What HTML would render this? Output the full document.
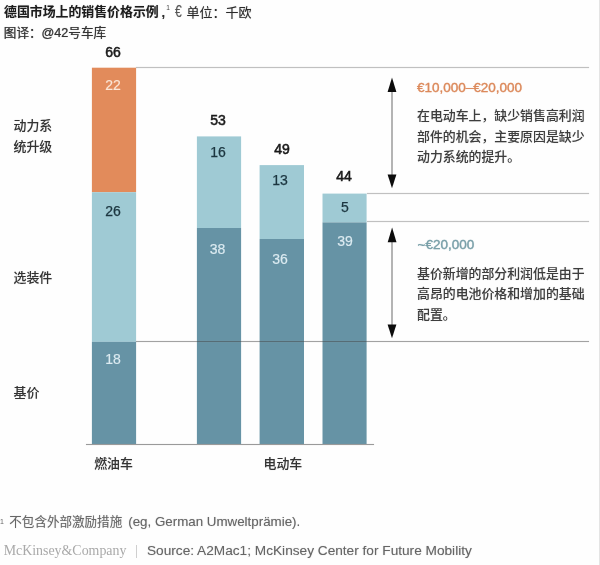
<!DOCTYPE html>
<html lang="zh-CN">
<head>
<meta charset="utf-8">
<title>德国市场上的销售价格示例</title>
<style>
html,body{margin:0;padding:0;}
body{width:600px;height:565px;overflow:hidden;background:#fefefe;position:relative;
  font-family:"Liberation Sans","Noto Sans CJK SC",sans-serif;color:#222;}
#chart{position:absolute;left:0;top:0;width:600px;height:565px;}
.t{position:absolute;white-space:nowrap;line-height:1;text-shadow:0 0 1px rgba(50,50,50,.4);}
.hl{position:absolute;height:1px;background:#c0c0c0;box-shadow:0 0 1px rgba(150,150,150,.6);}
.num{position:absolute;width:44px;text-align:center;font-size:14px;line-height:1;margin-top:-0.7px;-webkit-text-stroke:0.3px currentColor;}
.tot{color:#1a1a1a;margin-top:-1px;-webkit-text-stroke:0.55px currentColor;}
.w{color:#dcebf1;-webkit-text-stroke:0.15px currentColor;}
.k{color:#1c3640;-webkit-text-stroke:0.25px currentColor;}
.cat{font-size:12.9px;color:#333;font-weight:500;text-shadow:0 0 1px rgba(50,50,50,.25);}
.body{font-size:12.9px;color:#3d3d3d;font-weight:500;text-shadow:0 0 1px rgba(60,60,60,.25);}
</style>
</head>
<body>
<div id="chart">
  <!-- header -->
  <div class="t" id="title" style="left:4px;top:5.6px;font-size:12.9px;font-weight:bold;color:#1c1c1c;">德国市场上的销售价格示例</div>
  <div class="t" style="left:161.6px;top:5.5px;font-size:13px;font-weight:bold;color:#2a2a2a;">,</div>
  <div class="t" style="left:166.2px;top:5.2px;font-size:6.5px;color:#444;text-shadow:none;">1</div>
  <div class="t" style="left:174.5px;top:3.9px;font-size:16.6px;color:#555;text-shadow:0 0 1px rgba(85,85,85,.4);transform:scaleX(0.74);transform-origin:0 0;">€</div>
  <div class="t" style="left:186.6px;top:6.2px;font-size:13px;color:#2a2a2a;">单位：千欧</div>
  <div class="t" id="sub" style="left:3.8px;top:27.1px;font-size:12.6px;color:#333;-webkit-text-stroke:0.2px #333;">图译：@42号车库</div>

  <!-- guide lines -->
  <div class="hl" style="left:136px;top:67px;width:453px;"></div>
  <div class="hl" style="left:367px;top:193px;width:222px;"></div>
  <div class="hl" style="left:367px;top:221px;width:222px;"></div>

  <!-- bars -->
  <svg width="600" height="565" viewBox="0 0 600 565" style="position:absolute;left:0;top:0;">
    <rect x="91.9" y="67.7" width="44.2" height="124.5" fill="#e28b5b"/>
    <rect x="91.9" y="192.2" width="44.2" height="149.6" fill="#9fcad4"/>
    <rect x="91.9" y="341.8" width="44.2" height="102.4" fill="#6693a5"/>
    <rect x="196.9" y="136.4" width="44.2" height="91.6" fill="#9fcad4"/>
    <rect x="196.9" y="228" width="44.2" height="216.2" fill="#6693a5"/>
    <rect x="259.6" y="165.1" width="44.4" height="73.9" fill="#9fcad4"/>
    <rect x="259.6" y="239" width="44.4" height="205.2" fill="#6693a5"/>
    <rect x="322.5" y="193.6" width="44.1" height="28.8" fill="#9fcad4"/>
    <rect x="322.5" y="222.4" width="44.1" height="221.8" fill="#6693a5"/>
  </svg>

  <div class="hl" style="left:136px;top:341px;width:453px;background:rgba(70,70,70,.5);"></div>
  <div class="hl" style="left:86px;top:444px;width:288px;background:#9a9a9a;"></div>

  <!-- numbers -->
  <div class="num tot" style="left:91px;top:46px;">66</div>
  <div class="num w" style="left:91px;top:79px;color:#fbe6d6;">22</div>
  <div class="num k" style="left:91px;top:205px;">26</div>
  <div class="num w" style="left:91px;top:353px;">18</div>

  <div class="num tot" style="left:196px;top:114px;">53</div>
  <div class="num k" style="left:196px;top:145.4px;">16</div>
  <div class="num w" style="left:195.5px;top:243px;">38</div>

  <div class="num tot" style="left:260px;top:143px;">49</div>
  <div class="num k" style="left:258px;top:174px;">13</div>
  <div class="num w" style="left:258px;top:253px;">36</div>

  <div class="num tot" style="left:322px;top:170px;">44</div>
  <div class="num k" style="left:323px;top:201px;">5</div>
  <div class="num w" style="left:323px;top:235px;">39</div>

  <!-- category labels -->
  <div class="t cat" style="left:13.5px;top:120.2px;">动力系</div>
  <div class="t cat" style="left:13.5px;top:140.6px;">统升级</div>
  <div class="t cat" style="left:13.5px;top:272px;">选装件</div>
  <div class="t cat" style="left:13.5px;top:387.4px;">基价</div>
  <div class="t cat" style="left:94.2px;top:457.6px;">燃油车</div>
  <div class="t cat" style="left:263.5px;top:457.6px;">电动车</div>

  <!-- arrows -->
  <svg width="600" height="565" viewBox="0 0 600 565" style="position:absolute;left:0;top:0;">
    <line x1="392" y1="88" x2="392" y2="178" stroke="#6a6a6a" stroke-width="1"/>
    <polygon points="392,77.5 396.4,92 387.6,92" fill="#0c0c0c"/>
    <polygon points="392,188.3 396.4,174.5 387.6,174.5" fill="#0c0c0c"/>
    <line x1="392" y1="238" x2="392" y2="328" stroke="#6a6a6a" stroke-width="1"/>
    <polygon points="392.1,227.5 396.5,242.3 387.7,242.3" fill="#0c0c0c"/>
    <polygon points="392,338.3 396.4,324.5 387.6,324.5" fill="#0c0c0c"/>
  </svg>

  <!-- annotations -->
  <div class="t" style="left:417px;top:80.5px;font-size:13.5px;color:#dc8a5c;-webkit-text-stroke:0.3px #dc8a5c;text-shadow:0 0 1px rgba(220,138,92,.5);">€10,000–€20,000</div>
  <div class="t body" style="left:417px;top:110.4px;">在电动车上，缺少销售高利润</div>
  <div class="t body" style="left:417px;top:130.9px;">部件的机会，主要原因是缺少</div>
  <div class="t body" style="left:417px;top:151.3px;">动力系统的提升。</div>

  <div class="t" style="left:417.5px;top:238px;font-size:13.5px;color:#7aa0a9;-webkit-text-stroke:0.3px #7aa0a9;text-shadow:0 0 1px rgba(122,160,169,.5);">~€20,000</div>
  <div class="t body" style="left:417px;top:268px;">基价新增的部分利润低是由于</div>
  <div class="t body" style="left:417px;top:288px;">高昂的电池价格和增加的基础</div>
  <div class="t body" style="left:417px;top:308.5px;">配置。</div>

  <!-- footer -->
  <div class="t" style="left:0px;top:518px;font-size:7px;color:#666;text-shadow:none;">1</div>
  <div class="t" style="left:9.3px;top:516.2px;font-size:12.55px;color:#666;text-shadow:0 0 1px rgba(102,102,102,.45);">不包含外部激励措施</div>
  <div class="t" style="left:128.2px;top:515.1px;font-size:13.35px;color:#666;text-shadow:0 0 1px rgba(102,102,102,.45);">(eg, German Umweltprämie).</div>
  <div class="t" style="left:3.7px;top:543.8px;font-size:13.9px;color:#a9a9a9;text-shadow:none;font-family:'Liberation Serif',serif;">McKinsey&amp;Company</div>
  <div class="t" style="left:136px;top:545px;width:1px;height:13px;background:#cfcfcf;"></div>
  <div class="t" style="left:147px;top:543.5px;font-size:13.67px;color:#666;text-shadow:0 0 1px rgba(102,102,102,.45);">Source: A2Mac1; McKinsey Center for Future Mobility</div>

  <div style="position:absolute;left:598.5px;top:0;width:1.5px;height:565px;background:#e4e4e4;"></div>
</div>
</body>
</html>
